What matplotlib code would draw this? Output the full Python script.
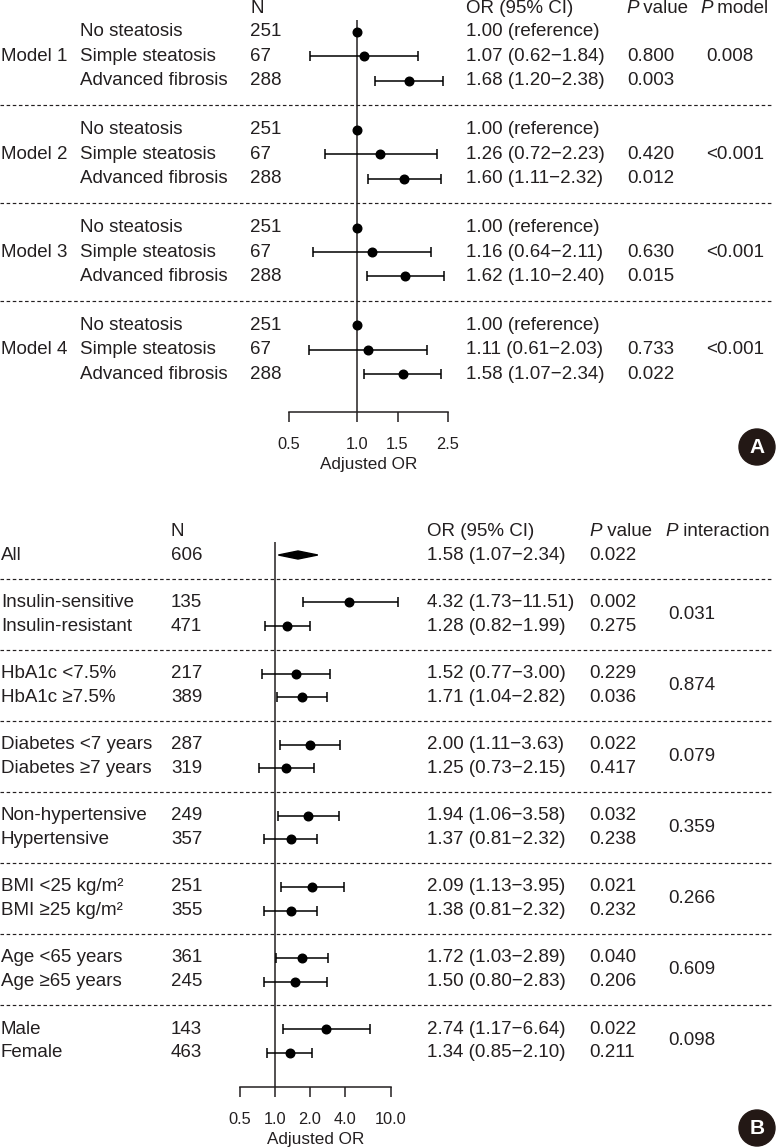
import matplotlib
matplotlib.use("Agg")
import matplotlib.pyplot as plt
import matplotlib.transforms as mtransforms
from matplotlib.patches import Circle, Polygon
from matplotlib.ticker import NullLocator

plt.rcParams['font.family'] = ['Liberation Sans', 'DejaVu Sans']
INK = '#231f20'
plt.rcParams['text.color'] = INK

# ---- panel A data ----
models = ["Model 1", "Model 2", "Model 3", "Model 4"]
groups_a = ["No steatosis", "Simple steatosis", "Advanced fibrosis"]
n_a = [251, 67, 288]
or_a = [[1.00, 1.07, 1.68], [1.00, 1.26, 1.60], [1.00, 1.16, 1.62], [1.00, 1.11, 1.58]]
lo_a = [[None, 0.62, 1.20], [None, 0.72, 1.11], [None, 0.64, 1.10], [None, 0.61, 1.07]]
hi_a = [[None, 1.84, 2.38], [None, 2.23, 2.32], [None, 2.11, 2.40], [None, 2.03, 2.34]]
p_a = [["", "0.800", "0.003"], ["", "0.420", "0.012"],
       ["", "0.630", "0.015"], ["", "0.733", "0.022"]]
p_model = ["0.008", "<0.001", "<0.001", "<0.001"]
ticks_a = [0.5, 1.0, 1.5, 2.5]

# ---- panel B data ----
all_n = 606
all_or, all_lo, all_hi, all_p = 1.58, 1.07, 2.34, "0.022"
labels_b = ["Insulin-sensitive", "Insulin-resistant", "HbA1c <7.5%", "HbA1c ≥7.5%",
            "Diabetes <7 years", "Diabetes ≥7 years", "Non-hypertensive", "Hypertensive",
            "BMI <25 kg/m²", "BMI ≥25 kg/m²", "Age <65 years", "Age ≥65 years",
            "Male", "Female"]
n_b = [135, 471, 217, 389, 287, 319, 249, 357, 251, 355, 361, 245, 143, 463]
or_b = [4.32, 1.28, 1.52, 1.71, 2.00, 1.25, 1.94, 1.37, 2.09, 1.38, 1.72, 1.50, 2.74, 1.34]
lo_b = [1.73, 0.82, 0.77, 1.04, 1.11, 0.73, 1.06, 0.81, 1.13, 0.81, 1.03, 0.80, 1.17, 0.85]
hi_b = [11.51, 1.99, 3.00, 2.82, 3.63, 2.15, 3.58, 2.32, 3.95, 2.32, 2.89, 2.83, 6.64, 2.10]
p_b = ["0.002", "0.275", "0.229", "0.036", "0.022", "0.417", "0.032",
       "0.238", "0.021", "0.232", "0.040", "0.206", "0.022", "0.211"]
p_int = ["0.031", "0.874", "0.079", "0.359", "0.266", "0.609", "0.098"]
ticks_b = [0.5, 1.0, 2.0, 4.0, 10.0]

W, H = 777, 1148
FS = 13.5
fig = plt.figure(figsize=(W / 100, H / 100), dpi=100)


def px_axes(x0, x1, ytop, ybot):
    return fig.add_axes([x0 / W, 1 - ybot / H, (x1 - x0) / W, (ybot - ytop) / H])


def fmt_ci(o, lo, hi):
    return f"{o:.2f} ({lo:.2f}\u2212{hi:.2f})"


def style_axis(ax, ticks, xlim):
    ax.set_xscale('log')
    ax.set_xlim(*xlim)
    ax.set_xticks(ticks)
    ax.set_xticklabels([f"{t:.1f}" for t in ticks])
    ax.xaxis.set_minor_locator(NullLocator())
    ax.set_yticks([])
    for s in ['top', 'right', 'left']:
        ax.spines[s].set_visible(False)
    ax.spines['bottom'].set_linewidth(1.1)
    ax.spines['bottom'].set_color(INK)
    ax.tick_params(axis='x', direction='out', length=7.5, width=1.1, color=INK,
                   labelsize=11.8, pad=10.5, labelcolor=INK)
    ax.set_xlabel("Adjusted OR", fontsize=12.3, labelpad=3.5, color=INK)
    ax.patch.set_visible(False)
    ax.axvline(1.0, color=INK, lw=1.1, zorder=1)


def p_header(ax, tr, x, y, rest):
    t = ax.text(x, y, "P", style='italic', fontsize=FS, transform=tr,
                va='center', ha='left')
    ax.annotate(rest, xy=(1, 0), xycoords=t, va='bottom', ha='left', fontsize=FS)


def dash(ax, tr, y):
    ax.plot([0, 773 / W], [y, y], transform=tr, color=INK, lw=0.85,
            ls=(0, (3, 2.2)), clip_on=False)


pt_kw = dict(fmt='o', color='black', ms=6.2, capsize=3.8, elinewidth=1.1,
             capthick=1.1, clip_on=False, zorder=3)

# ================= panel A =================
row_a = 24.45
axA = px_axes(289, 448, 20, 412)
trA = mtransforms.blended_transform_factory(fig.transFigure, axA.transData)
style_axis(axA, ticks_a, (0.5, 2.5))

fx = lambda p: p / W
axA.text(fx(250), -0.95, "N", fontsize=FS, transform=trA, va='center')
axA.text(fx(466), -0.95, "OR (95% CI)", fontsize=FS, transform=trA, va='center')
p_header(axA, trA, fx(626), -0.95, " value")
p_header(axA, trA, fx(700), -0.95, " model")

for k, m in enumerate(models):
    base = 4 * k
    axA.text(fx(1), base + 1, m, fontsize=FS, transform=trA, va='center')
    axA.text(fx(706), base + 1, p_model[k], fontsize=FS, transform=trA, va='center')
    for j, g in enumerate(groups_a):
        r = base + j
        axA.text(fx(80), r, g, fontsize=FS, transform=trA, va='center')
        axA.text(fx(250), r, str(n_a[j]), fontsize=FS, transform=trA, va='center')
        o, lo, hi = or_a[k][j], lo_a[k][j], hi_a[k][j]
        if lo is None:
            axA.plot([o], [r], 'o', color='black', ms=6.2, zorder=3, clip_on=False)
            axA.text(fx(466), r, f"{o:.2f} (reference)", fontsize=FS,
                     transform=trA, va='center')
        else:
            axA.errorbar([o], [r], xerr=[[o - lo], [hi - o]], **pt_kw)
            axA.text(fx(466), r, fmt_ci(o, lo, hi), fontsize=FS,
                     transform=trA, va='center')
            axA.text(fx(627), r, p_a[k][j], fontsize=FS, transform=trA, va='center')
    if k < len(models) - 1:
        dash(axA, trA, base + 3)

axA.set_xlim(0.5, 2.5)
axA.set_ylim((412 - 32) / row_a, (20 - 32) / row_a)

# ================= panel B =================
row_b = 23.7
axB = px_axes(240, 391, 542, 1087)
trB = mtransforms.blended_transform_factory(fig.transFigure, axB.transData)
style_axis(axB, ticks_b, (0.5, 10.0))

axB.text(fx(171), -1, "N", fontsize=FS, transform=trB, va='center')
axB.text(fx(427), -1, "OR (95% CI)", fontsize=FS, transform=trB, va='center')
p_header(axB, trB, fx(589), -1, " value")
p_header(axB, trB, fx(665), -1, " interaction")

axB.text(fx(1), 0, "All", fontsize=FS, transform=trB, va='center')
axB.text(fx(171), 0, str(all_n), fontsize=FS, transform=trB, va='center')
axB.text(fx(427), 0, fmt_ci(all_or, all_lo, all_hi), fontsize=FS, transform=trB, va='center')
axB.text(fx(589), 0, all_p, fontsize=FS, transform=trB, va='center')
dh = 0.17
axB.add_patch(Polygon([(all_lo, 0), (all_or, -dh), (all_hi, 0), (all_or, dh)],
                      closed=True, color='black', zorder=3))
dash(axB, trB, 1)

for i, lab in enumerate(labels_b):
    grp, j = divmod(i, 2)
    r = 2 + 3 * grp + j
    axB.text(fx(1), r, lab, fontsize=FS, transform=trB, va='center')
    axB.text(fx(171), r, str(n_b[i]), fontsize=FS, transform=trB, va='center')
    axB.text(fx(427), r, fmt_ci(or_b[i], lo_b[i], hi_b[i]), fontsize=FS,
             transform=trB, va='center')
    axB.text(fx(589), r, p_b[i], fontsize=FS, transform=trB, va='center')
    axB.errorbar([or_b[i]], [r], xerr=[[or_b[i] - lo_b[i]], [hi_b[i] - or_b[i]]], **pt_kw)
    if j == 0:
        axB.text(fx(668), r + 0.5, p_int[grp], fontsize=FS, transform=trB, va='center')
        if grp > 0:
            dash(axB, trB, r - 1)

axB.set_xlim(0.5, 10.0)
axB.set_ylim((1087 - 555) / row_b, (542 - 555) / row_b)

# panel badges
for letter, cy in [("A", 447), ("B", 1128)]:
    cx = 757 / 100
    cyi = (H - cy) / 100
    fig.add_artist(Circle((cx, cyi), 0.18, transform=fig.dpi_scale_trans,
                          color='#231815', zorder=5))
    fig.text(cx, cyi - 0.005, letter, transform=fig.dpi_scale_trans, color='white',
             fontsize=15, fontweight='bold', ha='center', va='center', zorder=6)

fig.savefig("out.png", dpi=100)
